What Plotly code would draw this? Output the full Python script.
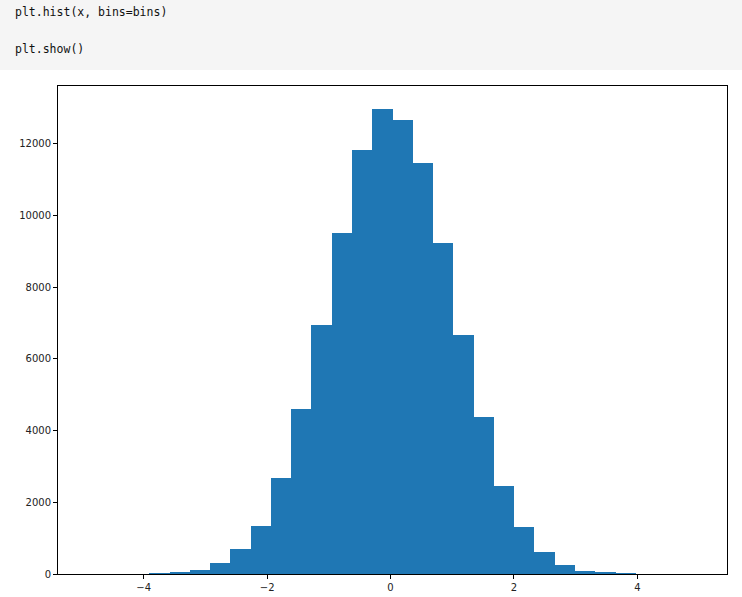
import numpy as np
import plotly.graph_objects as go

# Histogram of 100,000 standard-normal samples, 30 bins spanning the data range
bin_start = -4.896
bin_width = 0.3285
counts = [0, 0, 0, 15, 40, 111, 314, 703, 1343, 2678,
          4596, 6960, 9519, 11827, 12967, 12661, 11465, 9241, 6655, 4374,
          2455, 1315, 620, 259, 92, 38, 14, 0, 0, 0]
x_ticks = [-4, -2, 0, 2, 4]
x_tick_labels = ["\u22124", "\u22122", "0", "2", "4"]
y_ticks = [0, 2000, 4000, 6000, 8000, 10000, 12000]
code_lines = ["plt.hist(x, bins=bins)", "plt.show()"]

edges = bin_start + bin_width * np.arange(len(counts) + 1)
centers = (edges[:-1] + edges[1:]) / 2
data_min, data_max = edges[0], edges[-1]
pad = 0.05 * (data_max - data_min)

fig = go.Figure()
fig.add_trace(go.Bar(
    x=centers, y=counts, width=bin_width,
    marker=dict(color="#1f77b4", line=dict(width=0)),
    hoverinfo="x+y",
))

axis_common = dict(
    showgrid=False, zeroline=False, automargin=False,
    showline=True, linecolor="#000000", linewidth=1, mirror=True,
    ticks="outside", ticklen=4, tickwidth=1, tickcolor="#000000",
    tickfont=dict(family="DejaVu Sans", size=10, color="#222222"),
)

fig.update_layout(
    width=742, height=597, autosize=False,
    margin=dict(l=58, r=15, t=86, b=23, pad=0, autoexpand=False),
    paper_bgcolor="#ffffff", plot_bgcolor="#ffffff",
    bargap=0, showlegend=False,
    xaxis=dict(range=[data_min - pad, data_max + pad],
               tickmode="array", tickvals=x_ticks, ticktext=x_tick_labels,
               **axis_common),
    yaxis=dict(range=[0, max(counts) * 1.05],
               tickmode="array", tickvals=y_ticks,
               ticktext=[str(v) for v in y_ticks],
               **axis_common),
    shapes=[dict(type="rect", xref="paper", yref="paper",
                 x0=-1, x1=2, y0=1 + 16 / 488, y1=1 + 100 / 488,
                 fillcolor="#f5f5f5", line=dict(width=0), layer="below")],
)

line_y = [12, 49]
for txt, yy in zip(code_lines, line_y):
    fig.add_annotation(
        text=txt, xref="paper", yref="paper",
        x=-45 / 669, y=1 + (86 - yy) / 488,
        xanchor="left", yanchor="middle", showarrow=False,
        font=dict(family="DejaVu Sans Mono", size=11.5, color="#111111"),
    )

fig.write_html(
    "out.html",
    config={"displayModeBar": False},
    post_script="document.body.style.margin='0';document.body.style.padding='0';",
)
